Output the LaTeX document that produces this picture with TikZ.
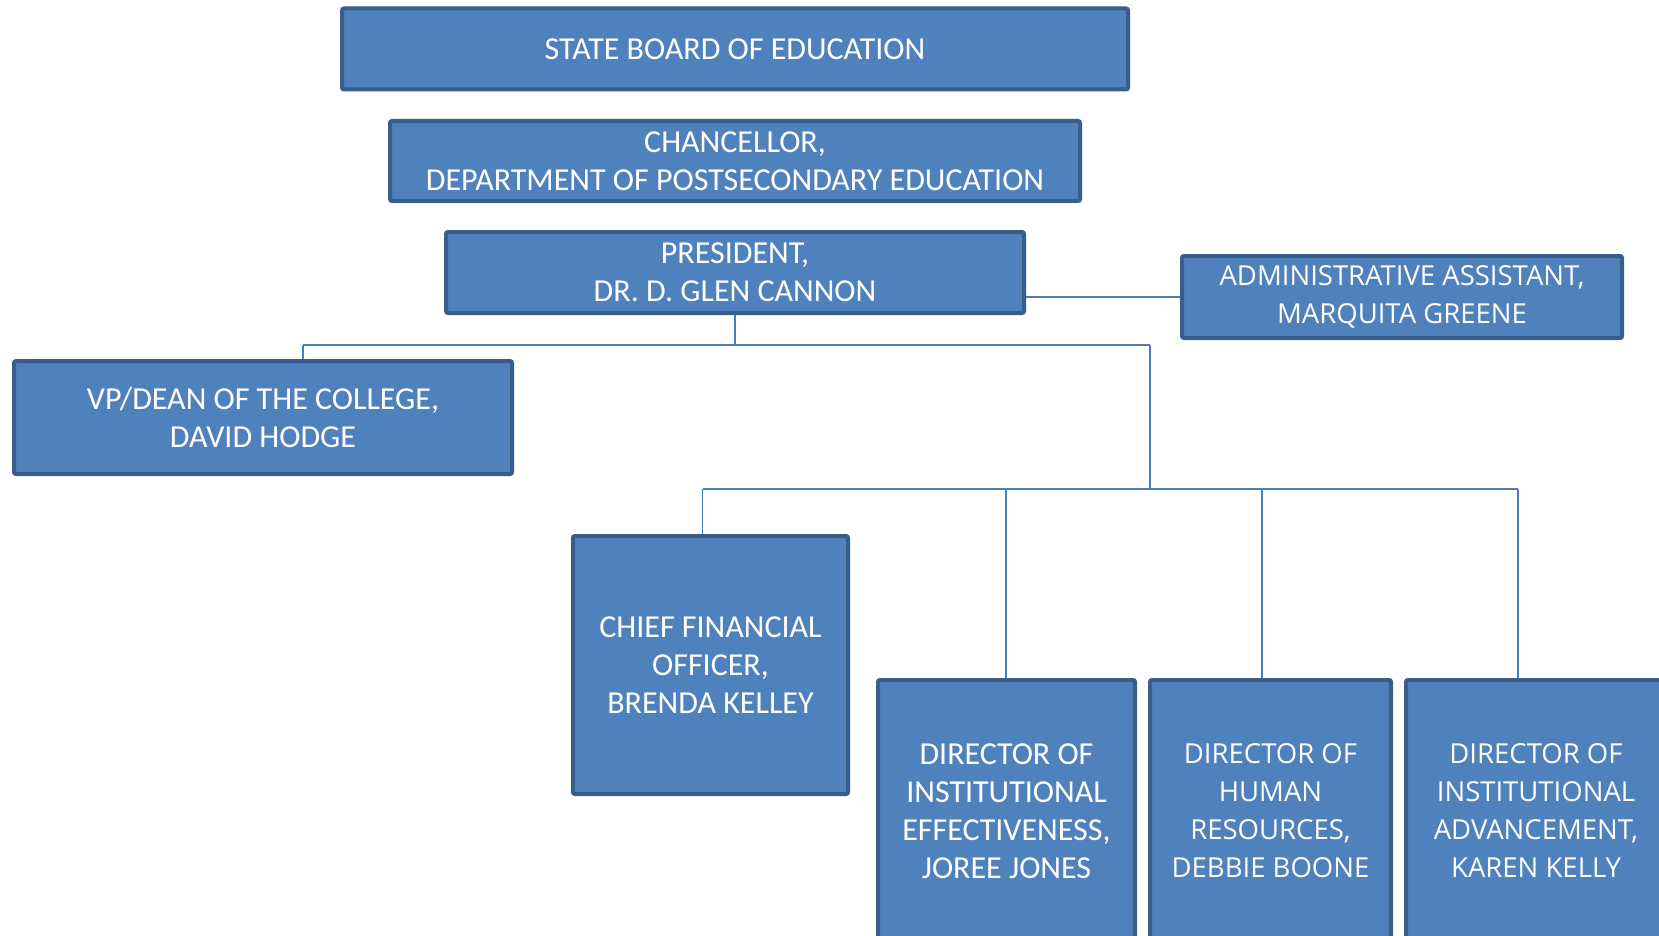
\documentclass[tikz,border=0pt]{standalone}
\usepackage{fontspec}
\setmainfont{Carlito}
\newfontfamily\widefont{Open Sans}
\usepackage{tikz}

\definecolor{boxfill}{HTML}{4F81BD}
\definecolor{boxline}{HTML}{385D8A}
\definecolor{linkline}{HTML}{4A7EBB}

\begin{document}
\begin{tikzpicture}[x=1pt, y=-1pt,
    every node/.style={draw=boxline, fill=boxfill, line width=4pt, rounded corners=2pt,
        text=white, align=center, inner sep=0pt,
        font=\fontsize{32}{38}\selectfont},
    wide/.style={font=\widefont\fontsize{27.5}{38}\selectfont},
    link/.style={draw=linkline, line width=1.6pt}]
    \useasboundingbox (0,0) rectangle (1659,936);

    \node[minimum width=786, minimum height=81] (board) at (735,49) {STATE BOARD OF EDUCATION};
    \node[minimum width=690, minimum height=80] (chanc) at (735,161) {CHANCELLOR,\\DEPARTMENT OF POSTSECONDARY EDUCATION};
    \node[minimum width=578, minimum height=81] (pres) at (735,272.5) {PRESIDENT,\\DR. D. GLEN CANNON};
    \node[wide, minimum width=440, minimum height=82] (admin) at (1402,297) {ADMINISTRATIVE ASSISTANT,\\MARQUITA GREENE};
    \node[minimum width=498, minimum height=113] (vp) at (263,417.5) {VP/DEAN OF THE COLLEGE,\\DAVID HODGE};
    \node[minimum width=275, minimum height=258] (cfo) at (710.5,665) {CHIEF FINANCIAL\\OFFICER,\\BRENDA KELLEY};
    \node[minimum width=257, minimum height=262] (ie) at (1006.5,811) {DIRECTOR OF\\INSTITUTIONAL\\EFFECTIVENESS,\\JOREE JONES};
    \node[wide, minimum width=241, minimum height=262] (hr) at (1270.5,811) {DIRECTOR OF\\HUMAN\\RESOURCES,\\DEBBIE BOONE};
    \node[wide, minimum width=260, minimum height=262] (ia) at (1536,811) {DIRECTOR OF\\INSTITUTIONAL\\ADVANCEMENT,\\KAREN KELLY};

    % junction points
    \coordinate (top) at (735,345);
    \coordinate (topw) at (303,345);
    \coordinate (tope) at (1150,345);
    \coordinate (low) at (1150,489);
    \coordinate (loww) at (702.5,489);
    \coordinate (lowe) at (1518,489);
    \coordinate (lowie) at (1006,489);
    \coordinate (lowhr) at (1262,489);

    \draw[link] (pres.east |- admin.west) -- (admin.west);
    \draw[link] (pres.south) -- (top);
    \draw[link] (topw) -- (tope);
    \draw[link] (topw) -- (topw |- vp.north);
    \draw[link] (tope) -- (low);
    \draw[link] (loww) -- (lowe);
    \draw[link] (loww) -- (loww |- cfo.north);
    \draw[link] (lowie) -- (lowie |- ie.north);
    \draw[link] (lowhr) -- (lowhr |- hr.north);
    \draw[link] (lowe) -- (lowe |- ia.north);
\end{tikzpicture}
\end{document}
